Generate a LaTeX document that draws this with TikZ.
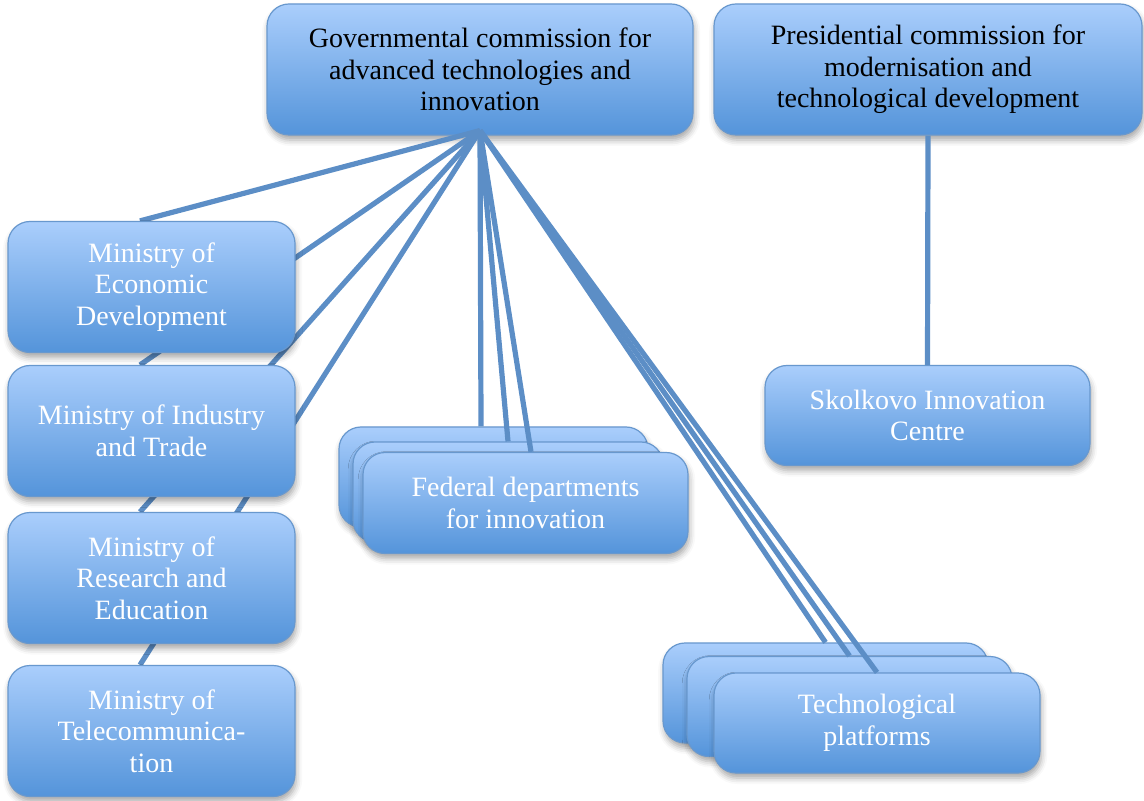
\documentclass[tikz,border=0pt]{standalone}
\usepackage{fontspec}
\setmainfont{Liberation Serif}
\usetikzlibrary{calc}
\usetikzlibrary{shadows.blur}

\definecolor{boxtop}{RGB}{170,206,252}
\definecolor{boxbot}{RGB}{84,148,218}
\definecolor{boxrim}{RGB}{104,152,206}
\definecolor{linkblue}{RGB}{92,142,198}

\pgfdeclarelayer{boxes}
\pgfdeclarelayer{over}
\pgfsetlayers{main,boxes,over}

\tikzset{
  box/.style={draw=boxrim, line width=0.6pt, rounded corners=11pt,
    top color=boxtop, bottom color=boxbot, align=center, inner sep=0pt,
    font=\fontsize{14}{15.75}\selectfont,
    blur shadow={shadow xshift=0.6pt, shadow yshift=-2.5pt,
      shadow blur radius=3pt, shadow opacity=35}},
  headbox/.style={box, text=black, minimum height=65.5pt},
  unitbox/.style={box, text=white},
  link/.style={draw=linkblue, line width=2.6pt}
}

\begin{document}
\begin{tikzpicture}[x=0.5pt,y=-0.5pt]
\useasboundingbox (0,0) rectangle (1144,801);
\node[headbox, minimum width=213pt] (gov) at (480,69.5)
  {Governmental commission for\\advanced technologies and\\innovation};
\node[headbox, minimum width=214pt] (pres) at (928,69.5)
  {Presidential commission for\\modernisation and\\technological development};
\coordinate (hub) at ($(gov.south)+(0,-5)$);

\begin{pgfonlayer}{boxes}
\foreach \i/\y/\txt in {0/287/{Ministry of\\Economic\\Development},
    1/431/{Ministry of Industry\\and Trade},
    2/578/{Ministry of\\Research and\\Education},
    3/731/{Ministry of\\Telecommunica-\\tion}} {
  \node[unitbox, minimum width=143.5pt, minimum height=65.5pt] (min_\i) at (151.5,\y) {\txt};
}

\foreach \i/\x/\y/\w in {0/493.5/477/154.5pt, 1/508/492/155pt} {
  \node[unitbox, minimum width=\w, minimum height=50pt] (fed_\i) at (\x,\y) {};
}
\node[unitbox, minimum width=162.5pt, minimum height=50.5pt] (fed_2) at (525.5,503)
  {Federal departments\\for innovation};

\foreach \i/\x/\y in {0/825.5/693, 1/849.5/706.5} {
  \node[unitbox, minimum width=162.5pt, minimum height=50pt] (tech_\i) at (\x,\y) {};
}
\node[unitbox, minimum width=163pt, minimum height=50pt] (tech_2) at (877,723)
  {Technological\\platforms};

\node[unitbox, minimum width=162.5pt, minimum height=50pt] (skol) at (927.5,415.5)
  {Skolkovo Innovation\\Centre};
\end{pgfonlayer}

\foreach \i in {0,...,3} {
  \draw[link] (hub) -- ($(min_\i.north)+(-11.5,0)$);
}

\begin{pgfonlayer}{over}
\draw[link] (hub) -- ($(fed_0.north)+(-12.5,0)$);
\draw[link] (hub) -- (fed_1.north);
\draw[link] (hub) -- ($(fed_2.north)+(5.5,0)$);
\foreach \i in {0,1,2} {
  \draw[link] (hub) -- (tech_\i.north);
}
\draw[link] (pres.south) -- (skol.north);
\end{pgfonlayer}
\end{tikzpicture}
\end{document}
